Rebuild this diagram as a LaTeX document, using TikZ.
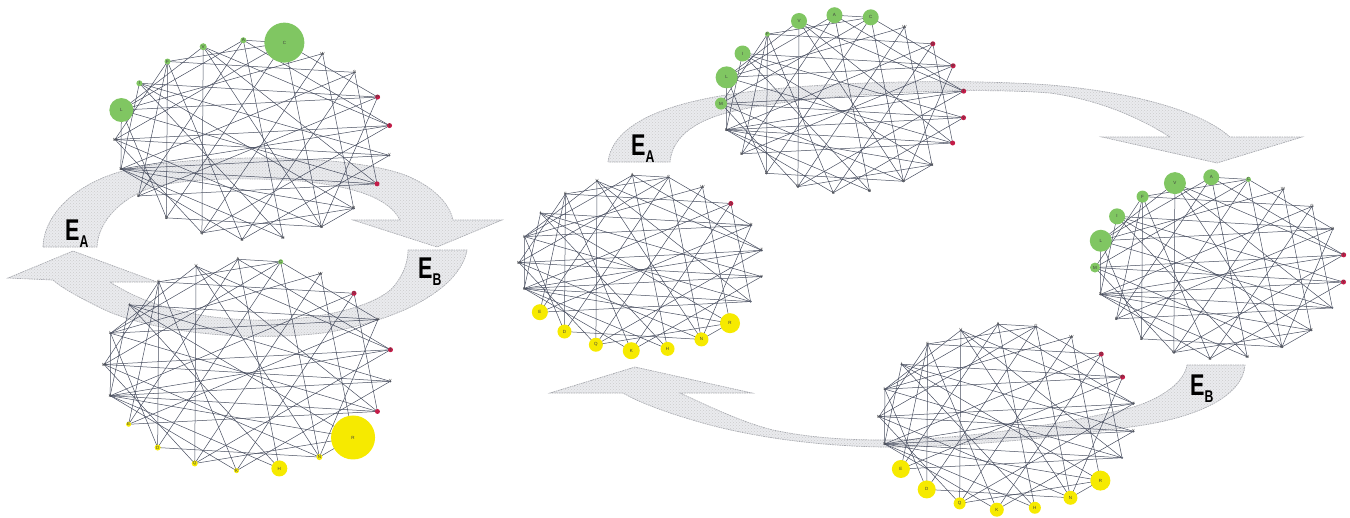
\documentclass[tikz,border=0pt]{standalone}
\usepackage{fontspec}
\setmainfont{Liberation Sans}
\usetikzlibrary{patterns}

\definecolor{edgecol}{RGB}{72,78,96}
\definecolor{leafgreen}{RGB}{128,198,98}
\definecolor{nodeyellow}{RGB}{246,234,0}
\definecolor{nodered}{RGB}{196,28,72}
\definecolor{bandfill}{RGB}{234,235,238}
\definecolor{bandline}{RGB}{168,170,176}

\tikzset{
  band/.style={fill=bandfill, draw=bandline, line width=0.7pt,
    dash pattern=on 1.6pt off 0.8pt,
    postaction={pattern=crosshatch dots, pattern color=black!20}},
  link/.style={draw=edgecol, line width=0.5pt},
  dotnode/.style={circle, fill=edgecol!85, inner sep=0pt, minimum size=2.4pt},
  bubble/.style={circle, inner sep=0pt, draw=none},
  letter/.style={inner sep=0pt, font=\fontsize{4.5}{4.5}\selectfont, text=black!75},
}

% E label with a subscript letter, set narrow
\newcommand\elabel[1]{\scalebox{0.72}[1]{\fontsize{30}{30}\selectfont\bfseries E\raisebox{-7pt}{\fontsize{17}{17}\selectfont #1}}}

% 21 residue positions on an ellipse: name, cx, cy, rx, ry
\newcommand\ringnodes[5]{%
  \foreach \i in {0,...,20} {
    \pgfmathsetmacro\ang{94-\i*360/21}
    \coordinate (#1-\i) at ({#2+#4*cos(\ang)},{#3-#5*sin(\ang)});
  }%
}

% the interaction network shared by all six panels
\newcommand\ringedges[1]{%
  \foreach \a/\b in {0/5,0/10,0/14,0/17,0/1,
    1/4,1/9,1/13,1/16,1/19,
    2/8,2/12,2/17,
    3/11,3/15,3/19,3/7,
    4/9,4/14,4/18,4/17,
    5/12,5/15,5/20,5/16,
    6/15,6/18,6/11,6/16,
    7/14,7/17,7/20,7/15,
    8/12,8/15,8/18,8/9,
    9/13,9/16,9/20,
    10/15,10/18,
    11/15,11/19,
    12/16,12/20,
    13/17,13/19,
    14/19,
    15/18,15/17,16/19,17/20} {
    \draw[link] (#1-\a) -- (#1-\b);
  }%
  \foreach \i in {0,...,20} {
    \node[dotnode] (#1-d\i) at (#1-\i) {};
  }%
}

% residue letters
\newcommand\ringletters[1]{%
  \foreach \i/\l in {0/A,1/C,2/W,3/G,4/P,5/T,6/Y,8/R,9/N,10/H,11/K,12/Q,13/D,14/E,15/S,16/M,17/L,18/I,19/F,20/V} {
    \node[letter] (#1-t\i) at (#1-\i) {\l};
  }%
}

\begin{document}
\begin{tikzpicture}[x=1pt,y=-1pt]
\useasboundingbox (0,0) rectangle (1350,517);

% ---------- curved transition arrows (behind the networks) ----------
% left panel, E_A
\path[band] (43,247) .. controls (44,212) and (80,178) .. (140,167)
  .. controls (220,153) and (350,155) .. (405,175)
  .. controls (435,187) and (450,205) .. (453,220)
  -- (502,220) -- (437,247) -- (353,220) -- (400,220)
  .. controls (390,200) and (360,187) .. (300,181)
  .. controls (230,176) and (170,180) .. (145,190)
  .. controls (115,203) and (98,225) .. (97,247) -- cycle;
% left panel, E_B
\path[band] (408,250) -- (467,250)
  .. controls (462,280) and (420,315) .. (330,332)
  .. controls (260,342) and (160,335) .. (105,310)
  .. controls (80,298) and (62,288) .. (53,280)
  -- (8,278) -- (73,251) -- (157,282) -- (110,282)
  .. controls (150,308) and (200,318) .. (250,320)
  .. controls (320,322) and (380,305) .. (395,285)
  .. controls (405,272) and (408,260) .. (408,250) -- cycle;
% right panel, E_A
\path[band] (608,162) .. controls (612,130) and (650,108) .. (720,96)
  .. controls (800,82) and (950,78) .. (1050,85)
  .. controls (1130,92) and (1200,110) .. (1230,137)
  -- (1302,137) -- (1217,163) -- (1102,137) -- (1170,137)
  .. controls (1140,118) and (1100,100) .. (1050,93)
  .. controls (960,86) and (800,95) .. (730,112)
  .. controls (690,122) and (672,140) .. (670,162) -- cycle;
% right panel, E_B
\path[band] (1187,365) -- (1245,365)
  .. controls (1243,395) and (1200,418) .. (1130,427)
  .. controls (1040,440) and (940,448) .. (883,447)
  .. controls (820,446) and (760,438) .. (710,425)
  .. controls (670,414) and (640,403) .. (623,393)
  -- (550,393) -- (635,367) -- (752,393) -- (680,393)
  .. controls (700,402) and (740,422) .. (773,430)
  .. controls (810,438) and (850,440) .. (883,440)
  .. controls (960,440) and (1060,425) .. (1130,408)
  .. controls (1165,398) and (1185,380) .. (1187,365) -- cycle;

\node[anchor=base west, inner sep=0pt] (lea) at (65,240) {\elabel{A}};
\node[anchor=base west, inner sep=0pt] (leb) at (418,278) {\elabel{B}};
\node[anchor=base west, inner sep=0pt] (rea) at (631,155) {\elabel{A}};
\node[anchor=base west, inner sep=0pt] (reb) at (1190,395) {\elabel{B}};

% ---------- networks ----------
% left, top
\ringnodes{ga}{253}{140}{138}{100}
\ringedges{ga}
\foreach \i/\r/\c in {0/3/leafgreen,1/20/leafgreen,20/3.5/leafgreen,19/3/leafgreen,18/3/leafgreen,17/12/leafgreen,
  4/2.5/nodered,5/2.5/nodered,7/2.5/nodered}
  \node[bubble, fill=\c, minimum size=2*\r pt] (ga-b\i) at (ga-\i) {};
\ringletters{ga}

% left, bottom
\ringnodes{gb}{248}{365}{144}{106}
\ringedges{gb}
\foreach \i/\r/\c in {8/22/nodeyellow,10/8/nodeyellow,9/3/nodeyellow,11/2.5/nodeyellow,12/3/nodeyellow,13/3/nodeyellow,14/2.5/nodeyellow,
  1/2.5/leafgreen,3/2.5/nodered,5/2.5/nodered,7/2.5/nodered}
  \node[bubble, fill=\c, minimum size=2*\r pt] (gb-b\i) at (gb-\i) {};
\ringletters{gb}

% right, top
\ringnodes{gc}{843}{104}{122}{89}
\ringedges{gc}
\foreach \i/\r/\c in {0/8/leafgreen,1/8/leafgreen,20/8/leafgreen,19/2.5/leafgreen,18/8/leafgreen,17/11/leafgreen,16/6/leafgreen,
  3/2.5/nodered,4/2.5/nodered,5/2.5/nodered,6/2.5/nodered,7/2.5/nodered}
  \node[bubble, fill=\c, minimum size=2*\r pt] (gc-b\i) at (gc-\i) {};
\ringletters{gc}

% right, left
\ringnodes{gd}{641}{263}{122}{88}
\ringedges{gd}
\foreach \i/\r/\c in {8/10/nodeyellow,9/7/nodeyellow,10/7/nodeyellow,11/8.5/nodeyellow,12/7/nodeyellow,13/7/nodeyellow,14/8/nodeyellow,
  3/2.5/nodered}
  \node[bubble, fill=\c, minimum size=2*\r pt] (gd-b\i) at (gd-\i) {};
\ringletters{gd}

% right, right
\ringnodes{ge}{1220}{268}{125}{91}
\ringedges{ge}
\foreach \i/\r/\c in {0/8/leafgreen,20/11/leafgreen,19/6/leafgreen,18/8/leafgreen,17/11/leafgreen,16/5/leafgreen,1/2.5/leafgreen,
  5/2.5/nodered,6/2.5/nodered}
  \node[bubble, fill=\c, minimum size=2*\r pt] (ge-b\i) at (ge-\i) {};
\ringletters{ge}

% right, bottom
\ringnodes{gf}{1007}{417}{128}{93}
\ringedges{gf}
\foreach \i/\r/\c in {14/9/nodeyellow,13/9/nodeyellow,12/6/nodeyellow,11/7/nodeyellow,10/6/nodeyellow,9/7/nodeyellow,8/10/nodeyellow,
  3/2.5/nodered,4/2.5/nodered}
  \node[bubble, fill=\c, minimum size=2*\r pt] (gf-b\i) at (gf-\i) {};
\ringletters{gf}

\end{tikzpicture}
\end{document}
